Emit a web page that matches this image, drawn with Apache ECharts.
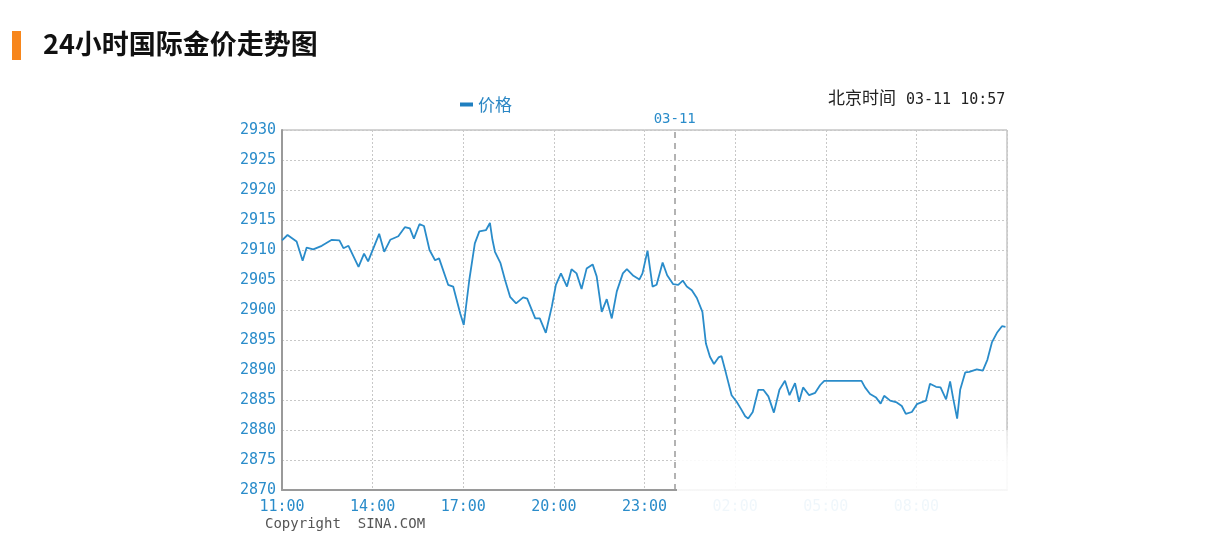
<!DOCTYPE html>
<html><head><meta charset="utf-8">
<script src="https://cdn.jsdelivr.net/npm/echarts@6/dist/echarts.min.js"></script>
<style>html,body{margin:0;padding:0;background:#fff}#c{width:1228px;height:547px}</style>
</head><body><div id="c"></div>
<script>
// minutes elapsed since 11:00 (03-10)
const times = [0,11,29,41,49,62,79,99,114,122,132,152,163,171,193,203,215,231,244,254,262,273,282,293,304,312,330,340,354,361,372,383,392,405,413,418,423,434,443,453,465,479,487,503,512,524,536,544,554,566,575,585,595,605,617,625,635,645,655,665,677,685,698,710,716,726,736,744,756,765,777,787,796,804,814,824,835,842,850,858,867,873,882,893,903,911,920,926,935,946,956,966,977,988,999,1008,1019,1027,1035,1047,1059,1069,1077,1151,1158,1168,1180,1189,1196,1208,1221,1231,1239,1251,1261,1279,1287,1299,1308,1319,1327,1333,1341,1347,1357,1365,1380,1392,1401,1410,1420,1430,1437];
const prices = [2911.6,2912.5,2911.4,2908.2,2910.4,2910.1,2910.7,2911.7,2911.6,2910.3,2910.7,2907.2,2909.4,2908.1,2912.7,2909.7,2911.7,2912.3,2913.8,2913.6,2911.9,2914.3,2914.0,2910.0,2908.3,2908.6,2904.2,2903.9,2899.4,2897.5,2905.0,2911.1,2913.1,2913.3,2914.5,2911.7,2909.7,2907.8,2905.0,2902.2,2901.1,2902.1,2901.9,2898.6,2898.6,2896.2,2900.6,2904.2,2906.1,2903.9,2906.8,2906.1,2903.5,2906.9,2907.6,2905.6,2899.7,2901.8,2898.6,2903.1,2906.1,2906.8,2905.7,2905.1,2906.1,2909.9,2903.9,2904.2,2907.9,2905.8,2904.3,2904.2,2904.9,2903.9,2903.3,2902.0,2899.7,2894.4,2892.2,2891.0,2892.1,2892.3,2889.4,2885.8,2884.7,2883.6,2882.3,2881.9,2883.0,2886.7,2886.7,2885.6,2882.9,2886.7,2888.2,2885.8,2887.8,2884.7,2887.1,2885.8,2886.2,2887.5,2888.2,2888.2,2887.1,2886.0,2885.4,2884.4,2885.7,2884.9,2884.6,2884.0,2882.7,2883.0,2884.3,2884.9,2887.7,2887.2,2887.1,2885.1,2888.1,2885.3,2881.9,2886.7,2889.6,2889.7,2890.1,2889.9,2891.7,2894.6,2896.2,2897.3,2897.2];
const yTicks = [2870,2875,2880,2885,2890,2895,2900,2905,2910,2915,2920,2925,2930];
const xTickLabels = ['11:00','14:00','17:00','20:00','23:00','02:00','05:00','08:00','11:00'];
const dayBreak = 780; // 00:00 of 03-11
const dayLabel = '03-11';
const title = '24小时国际金价走势图';
const seriesName = '价格';
const clockText = '03-11 10:57';

const chart = echarts.init(document.getElementById('c'));
const blue = '#2a8cca';
const mono = '"DejaVu Sans Mono", "Liberation Mono", monospace';
chart.setOption({
  animation: false,
  backgroundColor: '#fff',
  grid: {left: 282, right: 221, top: 130, bottom: 57, show: true, borderColor: '#a8a8a8', borderWidth: 1},
  legend: {
    data: [seriesName], left: 455, top: 91, icon: 'rect', itemWidth: 13, itemHeight: 4, itemGap: 7,
    textStyle: {color: '#2a86c4', fontSize: 17, fontFamily: '"Noto Sans CJK SC"'}
  },
  xAxis: {
    type: 'value', min: 0, max: 1440, interval: 180,
    axisLine: {show: true, lineStyle: {color: '#9a9a9a', width: 2}},
    axisTick: {show: false},
    axisLabel: {color: blue, fontSize: 15, fontFamily: mono, margin: 10, showMaxLabel: false,
      formatter: v => xTickLabels[Math.round(v / 180)]},
    splitLine: {show: true, lineStyle: {color: '#c8c8c8', type: [2, 2], width: 1}}
  },
  yAxis: {
    type: 'value', min: yTicks[0], max: yTicks[yTicks.length - 1], interval: 5,
    axisLine: {show: true, lineStyle: {color: '#9a9a9a', width: 2}},
    axisTick: {show: false},
    axisLabel: {color: blue, fontSize: 15, fontFamily: mono, margin: 6, formatter: v => String(v)},
    splitLine: {show: true, lineStyle: {color: '#c8c8c8', type: [2, 2], width: 1}}
  },
  series: [{
    name: seriesName, type: 'line', symbol: 'none', smooth: false,
    data: times.map((t, i) => [t, prices[i]]),
    lineStyle: {color: blue, width: 1.8},
    itemStyle: {color: '#1f7fc0'},
    markLine: {
      silent: true, symbol: 'none',
      lineStyle: {color: '#9a9a9a', type: [6, 5], width: 1.5},
      label: {show: true, position: 'end', formatter: dayLabel, color: blue, fontSize: 14, fontFamily: mono, distance: 4},
      data: [{xAxis: dayBreak}]
    }
  }],
  graphic: [
    {type: 'rect', left: 12, top: 31, shape: {width: 9, height: 29}, style: {fill: '#f7861c'}},
    {type: 'text', left: 43, top: 30, style: {text: title, fill: '#111', font: 'bold 27px "Noto Sans CJK SC"'}},
    {type: 'text', left: 828, top: 89, style: {text: '北京时间', fill: '#222', font: '17px "Noto Sans CJK SC"'}},
    {type: 'text', left: 906, top: 93, style: {text: clockText, fill: '#222', font: '15px ' + mono}},
    {type: 'text', left: 265, top: 517, style: {text: 'Copyright  SINA.COM', fill: '#555', font: '14px ' + mono}},
    {type: 'rect', left: 677, top: 430, z: 100, shape: {width: 345, height: 117},
      style: {fill: new echarts.graphic.LinearGradient(0, 0, 0, 1, [
        {offset: 0, color: 'rgba(255,255,255,0.55)'},
        {offset: 0.25, color: 'rgba(255,255,255,0.9)'},
        {offset: 1, color: 'rgba(255,255,255,0.95)'}])}}
  ]
});
</script></body></html>
